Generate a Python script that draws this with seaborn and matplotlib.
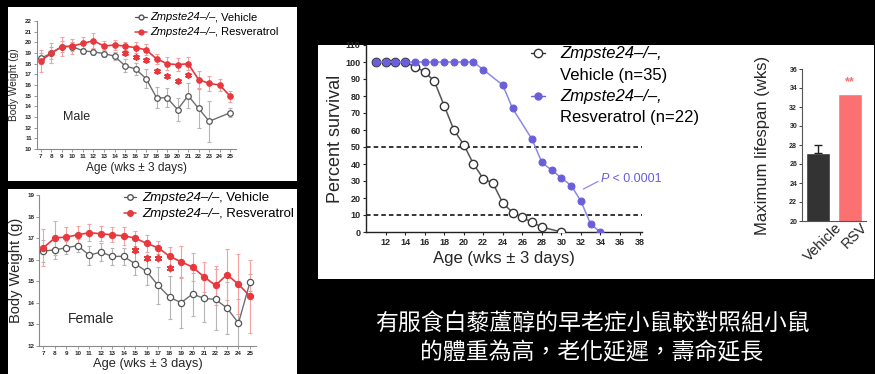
import matplotlib
matplotlib.use("Agg")
import matplotlib.pyplot as plt
import matplotlib.transforms as mtransforms
import seaborn as sns
from matplotlib.lines import Line2D
from matplotlib.patches import Rectangle

# ---------------- data ----------------
male_veh_weeks = [7, 8, 9, 10, 11, 12, 13, 14, 15, 16, 17, 18, 19, 20, 21, 22, 23, 25]
male_veh = [18.5, 19.0, 19.6, 19.6, 19.2, 19.1, 18.95, 18.7, 17.8, 17.5, 16.6, 14.8, 14.8, 13.7, 15.0, 13.8, 12.6, 13.4]
male_veh_err = [0.5, 0.6, 0.5, 0.4, 0.3, 0.3, 0.3, 0.4, 0.6, 0.6, 0.9, 1.0, 0.9, 1.1, 1.2, 1.8, 1.9, 0.4]
male_rsv_weeks = [7, 8, 9, 10, 11, 12, 13, 14, 15, 16, 17, 18, 19, 20, 21, 22, 23, 24, 25]
male_rsv = [18.25, 19.0, 19.6, 19.65, 19.9, 20.15, 19.65, 19.75, 19.65, 19.5, 19.3, 18.45, 18.0, 17.9, 18.0, 16.5, 16.15, 16.0, 14.95]
male_rsv_err = [1.0, 0.9, 0.9, 0.7, 0.6, 0.7, 0.5, 0.5, 0.4, 0.5, 0.5, 0.5, 0.6, 0.6, 0.6, 0.8, 0.7, 0.6, 0.5]
male_sig_weeks = [15, 16, 17, 18, 19, 20, 21]
male_sig_y = [19.0, 18.65, 18.35, 17.3, 16.85, 16.4, 16.9]

female_weeks = [7, 8, 9, 10, 11, 12, 13, 14, 15, 16, 17, 18, 19, 20, 21, 22, 23, 24, 25]
female_veh = [16.4, 16.45, 16.55, 16.65, 16.2, 16.35, 16.15, 16.15, 15.8, 15.45, 14.8, 14.25, 14.0, 14.4, 14.2, 14.15, 13.75, 13.05, 14.95]
female_veh_err = [0.5, 0.4, 0.3, 0.3, 0.45, 0.4, 0.4, 0.4, 0.5, 0.65, 0.85, 1.0, 1.2, 1.0, 1.1, 1.4, 1.2, 1.1, 0.4]
female_rsv = [16.55, 17.0, 17.05, 17.15, 17.25, 17.2, 17.15, 17.1, 17.0, 16.75, 16.55, 16.15, 15.9, 15.65, 15.2, 14.8, 15.3, 14.85, 14.3]
female_rsv_err = [0.85, 0.8, 0.45, 0.4, 0.4, 0.35, 0.35, 0.4, 0.35, 0.4, 0.3, 0.45, 0.75, 0.65, 0.7, 0.9, 1.2, 1.4, 1.7]
female_sig_weeks = [15, 16, 17, 18]
female_sig_y = [16.44, 16.09, 16.09, 15.6]

surv_veh_weeks = [11, 12, 13, 14, 15, 16, 17, 18, 19, 20, 21, 22, 23, 24, 25, 26, 27, 28, 30]
surv_veh = [100, 100, 100, 100, 97.1, 94.3, 88.6, 74.3, 60.0, 51.4, 40.0, 31.4, 28.6, 17.1, 11.4, 8.6, 5.7, 2.9, 0]
surv_rsv_weeks = [11, 12, 13, 14, 15, 16, 17, 18, 19, 20, 21, 22, 24, 25, 27, 28, 29, 30, 31, 32, 33, 34]
surv_rsv = [100, 100, 100, 100, 100, 100, 100, 100, 100, 100, 100, 95.5, 86.4, 72.7, 54.5, 40.9, 36.4, 31.8, 27.3, 18.2, 4.5, 0]

life_groups = ["Vehicle", "RSV"]
life_mean = [27.2, 33.4]
life_sem = [0.8, 0.0]

caption = ["有服食白藜蘆醇的早老症小鼠較對照組小鼠", "的體重為高，老化延遲，壽命延長"]

# ---------------- style ----------------
sns.set_style("ticks")
plt.rcParams["font.family"] = ["Liberation Sans", "Noto Sans CJK TC"]

RED = "#e8383d"
RED_ERR = "#f3a1a1"
GREY = "#6e6e6e"
GREY_ERR = "#b5b5b5"
PURPLE = "#6a5fd8"
PURPLE_LINE = "#8d87e8"
BAR_DARK = "#333333"
BAR_PINK = "#fb7070"

W, H = 875, 374
fig = plt.figure(figsize=(W / 100, H / 100), dpi=100, facecolor="black")
renderer = fig.canvas.get_renderer()


def fx(px):
    return px / W


def fy(py):
    return 1 - py / H


def panel(x0, y0, x1, y1):
    fig.patches.append(Rectangle((fx(x0), fy(y1)), (x1 - x0) / W, (y1 - y0) / H,
                                 transform=fig.transFigure, facecolor="white",
                                 edgecolor="none", zorder=-5))


def axes_px(x0, y0, x1, y1):
    ax = fig.add_axes([fx(x0), fy(y1), (x1 - x0) / W, (y1 - y0) / H])
    ax.set_facecolor("none")
    ax.set_zorder(2)
    return ax


def text_chain(px, py, parts, size, color="black"):
    """Write consecutive text pieces on one baseline, each with its own style."""
    x = px
    for s, style in parts:
        t = fig.text(fx(x), fy(py), s, fontsize=size, style=style, color=color,
                     ha="left", va="baseline", zorder=3)
        x = t.get_window_extent(renderer).x1
    return x


def legend_marker(px, py, half, color, face, ms, lw):
    fig.add_artist(Line2D([fx(px - half), fx(px + half)], [fy(py), fy(py)],
                          transform=fig.transFigure, color=color, lw=lw, zorder=3))
    fig.add_artist(Line2D([fx(px)], [fy(py)], transform=fig.transFigure, zorder=3,
                          marker="o", ms=ms, mfc=face, mec=color, mew=1.0, ls="none"))


def weight_panel(ax, veh_w, veh, veh_e, rsv_w, rsv, rsv_e, sig_w, sig_y,
                 ylim, xlim, ms, star_size):
    ax.errorbar(veh_w, veh, yerr=veh_e, fmt="none", ecolor=GREY_ERR, elinewidth=0.8,
                capsize=1.5, capthick=0.8, zorder=1)
    ax.errorbar(rsv_w, rsv, yerr=rsv_e, fmt="none", ecolor=RED_ERR, elinewidth=0.8,
                capsize=1.5, capthick=0.8, zorder=1)
    sns.lineplot(x=veh_w, y=veh, ax=ax, color=GREY, lw=1.0, marker="o", ms=ms,
                 markerfacecolor="white", markeredgecolor="#555555", markeredgewidth=0.9,
                 errorbar=None, zorder=3)
    sns.lineplot(x=rsv_w, y=rsv, ax=ax, color=RED, lw=1.2, marker="o", ms=ms,
                 markerfacecolor=RED, markeredgecolor=RED, errorbar=None, zorder=4)
    # significance asterisks
    sns.scatterplot(x=sig_w, y=sig_y, ax=ax, marker=(6, 2, 0), s=star_size,
                    color=RED, edgecolor=RED, linewidth=1.3, zorder=5)
    ax.set_xlim(*xlim)
    ax.set_ylim(*ylim)
    ax.set_xticks(range(7, 26))
    ax.set_yticks(range(ylim[0], ylim[1] + 1))
    for s in ("top", "right"):
        ax.spines[s].set_visible(False)
    for s in ("left", "bottom"):
        ax.spines[s].set_color("#8a8a8a")
        ax.spines[s].set_linewidth(0.8)
    ax.tick_params(length=2, width=0.6, color="#8a8a8a", labelsize=4.5, pad=1.5)
    for lab in ax.get_xticklabels() + ax.get_yticklabels():
        lab.set_fontweight("bold")


# ---------------- white panels ----------------
panel(8, 7, 297, 181)
panel(8, 189, 297, 374)
panel(318, 45, 874, 279)

# ---------------- male body weight ----------------
ax_m = axes_px(36.7, 21, 236.5, 149)
weight_panel(ax_m, male_veh_weeks, male_veh, male_veh_err, male_rsv_weeks, male_rsv,
             male_rsv_err, male_sig_weeks, male_sig_y, (10, 22), (6.6, 25.6), 4.0, 14)
ax_m.set_xlabel("Age (wks ± 3 days)", fontsize=8.6, labelpad=2.5)
ax_m.set_ylabel("Body Weight (g)", fontsize=7.3, labelpad=4)
ax_m.text(0.13, 0.25, "Male", transform=ax_m.transAxes, fontsize=9, ha="left", va="center")
legend_marker(141, 17, 6, "#555555", "white", 3.5, 0.9)
text_chain(150, 20, [("Zmpste24–/–", "italic"), (", Vehicle", "normal")], 8)
legend_marker(141, 32, 6, RED, RED, 3.5, 1.1)
text_chain(150, 35, [("Zmpste24–/–", "italic"), (", Resveratrol", "normal")], 8)

# ---------------- female body weight ----------------
ax_f = axes_px(39.3, 195, 255.7, 345.7)
weight_panel(ax_f, female_weeks, female_veh, female_veh_err, female_weeks, female_rsv,
             female_rsv_err, female_sig_weeks, female_sig_y, (12, 19), (6.65, 25.5), 4.5, 18)
ax_f.set_xlabel("Age (wks ± 3 days)", fontsize=9.3, labelpad=2)
ax_f.set_ylabel("Body Weight (g)", fontsize=10.5, labelpad=3)
ax_f.text(0.13, 0.18, "Female", transform=ax_f.transAxes, fontsize=10, ha="left", va="center")
legend_marker(130, 197, 6, "#555555", "white", 4, 0.9)
text_chain(142, 200.5, [("Zmpste24–/–", "italic"), (", Vehicle", "normal")], 9.5)
legend_marker(130, 213, 6, RED, RED, 4, 1.1)
text_chain(142, 216.5, [("Zmpste24–/–", "italic"), (", Resveratrol", "normal")], 9.5)

# ---------------- survival ----------------
ax_s = axes_px(366, 45, 642.5, 232)
ax_s.axhline(50, color="black", ls=(0, (3, 2)), lw=1.1, zorder=1)
ax_s.axhline(10, color="black", ls=(0, (3, 2)), lw=1.1, zorder=1)
sns.lineplot(x=surv_veh_weeks, y=surv_veh, ax=ax_s, color="#555555", lw=1.1, marker="o",
             ms=6.0, markerfacecolor="white", markeredgecolor="#333333", markeredgewidth=1.0,
             errorbar=None, zorder=3)
sns.lineplot(x=surv_rsv_weeks, y=surv_rsv, ax=ax_s, color=PURPLE_LINE, lw=1.1, marker="o",
             ms=5.0, markerfacecolor=PURPLE, markeredgecolor=PURPLE, errorbar=None, zorder=4)
ax_s.set_xlim(10, 38.3)
ax_s.set_ylim(0, 110)
ax_s.set_xticks(range(12, 39, 2))
ax_s.set_yticks(range(0, 111, 10))
for s in ("top", "right"):
    ax_s.spines[s].set_visible(False)
for s in ("left", "bottom"):
    ax_s.spines[s].set_color("#222222")
    ax_s.spines[s].set_linewidth(1.0)
ax_s.tick_params(length=2.5, width=0.8, labelsize=6.5, pad=1.5)
for lab in ax_s.get_xticklabels() + ax_s.get_yticklabels():
    lab.set_fontweight("bold")
ax_s.set_xlabel("Age (wks ± 3 days)", fontsize=12, labelpad=3)
ax_s.set_ylabel("Percent survival", fontsize=13, labelpad=1)
ax_s.annotate("", xy=(32.0, 24.5), xytext=(34.0, 30.5),
              arrowprops=dict(arrowstyle="-", color=PURPLE_LINE, lw=0.9))
text_chain(601, 182, [("P", "italic"), (" < 0.0001", "normal")], 9, color=PURPLE)

legend_marker(538, 53, 7, "#333333", "white", 6.0, 1.0)
text_chain(560, 58, [("Zmpste24–/–,", "italic")], 12)
text_chain(560, 80, [("Vehicle (n=35)", "normal")], 12)
legend_marker(538, 96, 7, PURPLE, PURPLE, 5.0, 1.0)
text_chain(560, 101, [("Zmpste24–/–,", "italic")], 12)
text_chain(560, 122, [("Resveratrol (n=22)", "normal")], 12)

# ---------------- maximum lifespan ----------------
ax_b = axes_px(802, 69, 866, 221)
sns.barplot(x=life_groups, y=life_mean, hue=life_groups, palette=[BAR_DARK, BAR_PINK],
            ax=ax_b, width=0.78, legend=False, errorbar=None, saturation=1)
for i, (m, e) in enumerate(zip(life_mean, life_sem)):
    if e > 0:
        ax_b.errorbar([i], [m], yerr=[[0], [e]], fmt="none", ecolor="#222222",
                      elinewidth=1.0, capsize=3, capthick=1.0)
ax_b.text(1, life_mean[1] + 0.6, "**", color=BAR_PINK, fontsize=9, fontweight="bold",
          ha="center", va="bottom")
ax_b.set_xlim(-0.5, 1.5)
ax_b.set_ylim(20, 36)
ax_b.set_yticks(range(20, 37, 2))
for s in ("top", "right"):
    ax_b.spines[s].set_visible(False)
for s in ("left", "bottom"):
    ax_b.spines[s].set_color("#555555")
    ax_b.spines[s].set_linewidth(0.8)
ax_b.tick_params(axis="y", length=2, width=0.6, labelsize=5, pad=1.5)
ax_b.tick_params(axis="x", length=0, labelsize=10.5, pad=1)
for lab in ax_b.get_yticklabels():
    lab.set_fontweight("bold")
shift = mtransforms.ScaledTranslation(5 / 100, 2 / 100, fig.dpi_scale_trans)
for lab in ax_b.get_xticklabels():
    lab.set_rotation(45)
    lab.set_transform(lab.get_transform() + shift)
ax_b.set_ylabel("Maximum lifespan (wks)", fontsize=12, labelpad=14)

# ---------------- caption ----------------
fig.text(fx(592), fy(323), caption[0], color="white", fontsize=16.5, ha="center", va="center",
         family=["Noto Sans CJK TC", "DejaVu Sans"])
fig.text(fx(592), fy(353), caption[1], color="white", fontsize=16.5, ha="center", va="center",
         family=["Noto Sans CJK TC", "DejaVu Sans"])

fig.savefig("out.png", dpi=100, facecolor="black")
